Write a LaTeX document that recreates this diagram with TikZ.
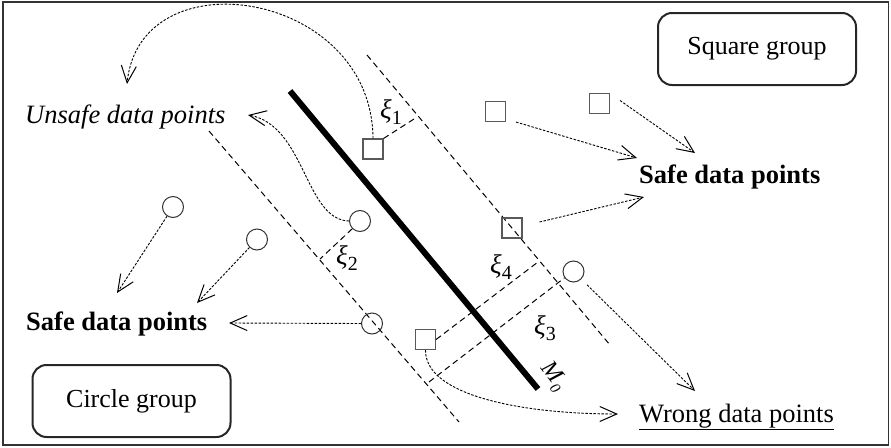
\documentclass[tikz,border=0pt]{standalone}
\usepackage{fontspec}
\setmainfont{Liberation Serif}
\usetikzlibrary{arrows.meta}
\newcommand\xisub[1]{\textit{ξ}\raisebox{-6pt}{\fontsize{20}{22}\selectfont #1}}
\begin{document}
\begin{tikzpicture}[x=1pt,y=-1pt,
 sq/.style={draw=black!65, line width=1.1pt, minimum size=20pt, inner sep=0pt},
 cir/.style={circle, draw=black!80, line width=1pt, minimum size=21pt, inner sep=0pt},
 arr/.style={dash pattern=on 2.5pt off 1.5pt, line width=0.9pt, -{Straight Barb[length=17pt,width=15pt,line width=1pt]}},
 bound/.style={dash pattern=on 6pt off 4pt, line width=1pt},
 grp/.style={draw=black!85, line width=2pt, rounded corners=14pt, minimum width=198pt, minimum height=72pt, font=\fontsize{26}{30}\selectfont},
 lab/.style={font=\fontsize{26.5}{30}\selectfont, inner sep=0pt, anchor=base west},
 xil/.style={font=\fontsize{27}{30}\selectfont, inner sep=0pt}
]
\useasboundingbox (0,0) rectangle (891,447);
\draw[line width=1.5pt, draw=black!80] (3,2) rectangle (888.5,445);

% group boxes
\node[grp] (sqg) at (757,49) {Square group};
\node[grp] (cig) at (131.5,401) {Circle group};

% labels
\node[lab] (unsafe) at (25,123) {\itshape Unsafe data points};
\node[lab] (safeR) at (639,183) {\bfseries Safe data points};
\node[lab] (safeL) at (26,330) {\bfseries Safe data points};
\node[lab] (wrong) at (639,422) {\underline{Wrong data points}};

% main separating line and margins
\coordinate (m1) at (290,91);
\coordinate (m2) at (538,389);
\draw[line width=6pt] (m1) -- (m2);
\node[font=\fontsize{24}{26}\selectfont, inner sep=0pt, rotate=-52] (M0) at (553,377) {\textit{M}\raisebox{-5pt}{\fontsize{15}{18}\selectfont\textit{0}}};
\coordinate (u1) at (367,55);
\coordinate (u2) at (610,345);
\coordinate (l1) at (209,131);
\coordinate (l2) at (459,422);
\draw[bound] (u1) -- (u2);
\draw[bound] (l1) -- (l2);

% data points
\node[sq, fill=white] (s1) at (373,149) {};
\node[sq] (s2) at (495.5,111.5) {};
\node[sq] (s3) at (599.5,103.5) {};
\node[sq] (s4) at (512,228) {};
\node[sq] (s5) at (425.5,339.5) {};
\node[cir] (c1) at (173,207) {};
\node[cir] (c2) at (360,221) {};
\node[cir] (c3) at (257,239.5) {};
\node[cir] (c4) at (372,323.5) {};
\node[cir] (c5) at (573.5,271.5) {};

% slack distances
\coordinate (p1) at (414,119);
\coordinate (p2) at (320,259);
\coordinate (p4) at (538,262);
\coordinate (p3a) at (429,382);
\draw[bound] (s1.north east) -- (p1);
\draw[bound] (c2.-135) -- (p2);
\draw[bound] (s5.east) -- (p4);
\draw[bound] (p3a) -- (c5.-145);
\node[xil] (xi1) at (391,112) {\xisub{1}};
\node[xil] (xi2) at (347,258) {\xisub{2}};
\node[xil] (xi4) at (501,267) {\xisub{4}};
\node[xil] (xi3) at (545,328) {\xisub{3}};

% arrow tips
\coordinate (t1) at (127,84);
\coordinate (t2) at (248,115);
\coordinate (t3) at (637,158);
\coordinate (t4) at (695,153);
\coordinate (t5) at (644,197);
\coordinate (t6) at (695,391);
\coordinate (t7) at (618,414);
\coordinate (t8) at (229,323);
\coordinate (t9) at (117,293);
\coordinate (t10) at (197,303);

\draw[arr] (s1.north) .. controls (372,-10) and (140,-45) .. (t1);
\draw[arr] (c2.west) .. controls (305,220) and (305,125) .. (t2);
\draw[arr] ([xshift=10pt]s2.south east) -- (t3);
\draw[arr] ([shift={(10,-3)}]s3.east) -- (t4);
\draw[arr] ([shift={(17,-6)}]s4.east) -- (t5);
\draw[arr, shorten <=8pt] (c5) -- (t6);
\draw[arr] (s5.south) .. controls (425,395) and (520,414) .. (t7);
\draw[arr] (c4.west) -- (t8);
\draw[arr] (c1) -- (t9);
\draw[arr] (c3) -- (t10);
\end{tikzpicture}
\end{document}
